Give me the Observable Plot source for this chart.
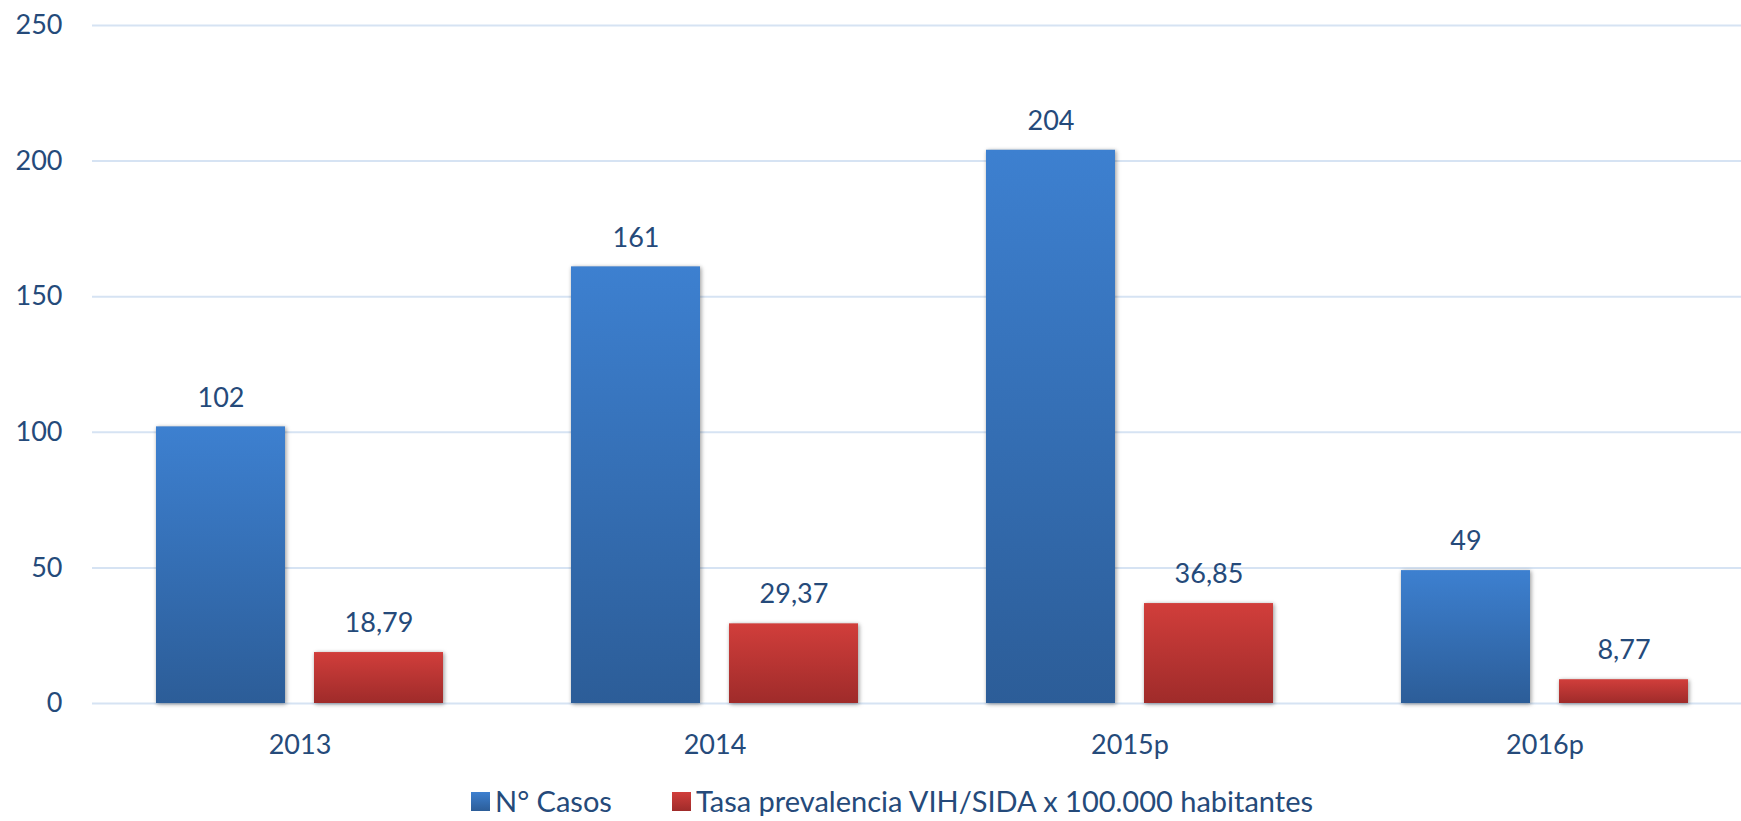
<!DOCTYPE html>
<html>
<head>
<meta charset="utf-8">
<script src="https://cdn.jsdelivr.net/npm/d3@7"></script>
<script src="https://cdn.jsdelivr.net/npm/@observablehq/plot@0.6"></script>
<style>
  html, body { margin: 0; padding: 0; background: #fff; overflow: hidden; }
  #chart svg { display: block; }
  .legend { display: flex; align-items: center; height: 30px; line-height: 30px; margin-top: 26px; margin-left: 471px;
            font-family: Lato, sans-serif; font-size: 29px; color: #254a7a; white-space: nowrap; }
  .legend .sw { width: 19px; height: 19px; margin-right: 5px; }
  .legend .item { display: flex; align-items: center; margin-right: 60px; }
</style>
</head>
<body>
<div id="chart"></div>
<script>
const years = ["2013", "2014", "2015p", "2016p"];
const casos = [102, 161, 204, 49];
const tasa = [18.79, 29.37, 36.85, 8.77];
const seriesNames = ["N° Casos", "Tasa prevalencia VIH/SIDA x 100.000 habitantes"];
const yTicks = [0, 50, 100, 150, 200, 250];
const seriesColors = [["#3d80d0", "#2c5d98"], ["#d13e3b", "#9f2b2a"]];

const rows = [];
years.forEach((y, i) => {
  rows.push({year: y, series: seriesNames[0], value: casos[i]});
  rows.push({year: y, series: seriesNames[1], value: tasa[i]});
});
const fmt = v => Number.isInteger(v) ? String(v) : v.toFixed(2).replace(".", ",");

const textColor = "#254a7a";
const plot = Plot.plot({
  width: 1741,
  height: 760,
  marginLeft: 92,
  marginRight: 0,
  marginTop: 25,
  marginBottom: 57,
  style: {fontFamily: "Lato, sans-serif", fontSize: "27px", color: textColor, background: "white", overflow: "hidden"},
  fx: {domain: years, range: [91.5, 1751.5], paddingInner: 0, paddingOuter: 0, label: null, axis: "bottom", tickSize: 0, tickPadding: 31},
  x: {domain: seriesNames, paddingInner: 0.186, paddingOuter: 0.402, axis: null},
  y: {domain: [0, 250], ticks: yTicks, tickSize: 0, tickPadding: 30, label: null},
  color: {domain: seriesNames, range: ["url(#gBlue)", "url(#gRed)"]},
  marks: [
    Plot.ruleY(yTicks, {stroke: "#d6e3f3", strokeWidth: 2}),
    Plot.barY(rows, {fx: "year", x: "series", y: "value", fill: "series", className: "bars"}),
    Plot.text(rows, {fx: "year", x: "series", y: "value", text: d => fmt(d.value), dy: -29, fill: textColor})
  ]
});

const ns = "http://www.w3.org/2000/svg";
const defs = document.createElementNS(ns, "defs");
[["gBlue", seriesColors[0]], ["gRed", seriesColors[1]]].forEach(([id, [c0, c1]]) => {
  const g = document.createElementNS(ns, "linearGradient");
  g.setAttribute("id", id);
  g.setAttribute("x1", "0"); g.setAttribute("y1", "0");
  g.setAttribute("x2", "0"); g.setAttribute("y2", "1");
  [[0, c0], [1, c1]].forEach(([o, c]) => {
    const s = document.createElementNS(ns, "stop");
    s.setAttribute("offset", o);
    s.setAttribute("stop-color", c);
    g.appendChild(s);
  });
  defs.appendChild(g);
});
const svgEl = plot.tagName.toLowerCase() === "svg" ? plot : plot.querySelector("svg");
svgEl.insertBefore(defs, svgEl.firstChild);
svgEl.querySelectorAll("g.bars, g[aria-label='bar'] rect").forEach(el => {
  el.style.filter = "drop-shadow(1px 1px 2px rgba(0,0,0,0.22))";
});
document.getElementById("chart").appendChild(plot);

const legend = document.createElement("div");
legend.className = "legend";
seriesNames.forEach((name, i) => {
  const item = document.createElement("div");
  item.className = "item";
  const sw = document.createElement("div");
  sw.className = "sw";
  sw.style.background = `linear-gradient(${seriesColors[i][0]}, ${seriesColors[i][1]})`;
  const lab = document.createElement("span");
  lab.textContent = name;
  item.appendChild(sw);
  item.appendChild(lab);
  legend.appendChild(item);
});
document.body.appendChild(legend);
</script>
</body>
</html>
